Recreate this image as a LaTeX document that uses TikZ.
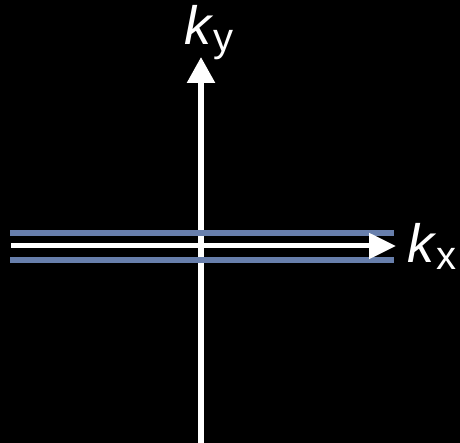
\documentclass[tikz,border=0pt]{standalone}
\usepackage{fontspec}
\setmainfont{Liberation Sans}
\usetikzlibrary{arrows.meta}
\definecolor{bandblue}{RGB}{104,127,172}
\tikzset{
	axis/.style={white,line width=5.5pt,-{Triangle[length=26pt,width=27pt]}},
	band/.style={bandblue,line width=6pt},
	klabel/.style={white,inner sep=0pt,anchor=base west,font=\fontsize{54}{54}\selectfont}
}
\begin{document}
\begin{tikzpicture}[x=1pt,y=-1pt]
	\fill[black] (0,0) rectangle (460,443);
	\useasboundingbox (0,0) rectangle (460,443);
	\coordinate (ybot) at (201,445);
	\coordinate (ytop) at (201,57);
	\coordinate (xleft) at (11,246);
	\coordinate (xright) at (396,246);
	\coordinate (bandtl) at (10,233);
	\coordinate (bandtr) at (394,233);
	\coordinate (bandbl) at (10,260);
	\coordinate (bandbr) at (394,260);
	\draw[axis] (ybot) -- (ytop);
	\draw[band] (bandtl) -- (bandtr);
	\draw[band] (bandbl) -- (bandbr);
	\draw[axis,line width=5pt,-{Triangle[length=27pt,width=25pt]}] (xleft) -- (xright);
	\node[klabel] (ky) at (184,45) {\textit{k}\raisebox{-7pt}{\fontsize{40}{40}\selectfont y}};
	\node[klabel] (kx) at (407,263) {\textit{k}\raisebox{-7pt}{\fontsize{40}{40}\selectfont x}};
\end{tikzpicture}
\end{document}
